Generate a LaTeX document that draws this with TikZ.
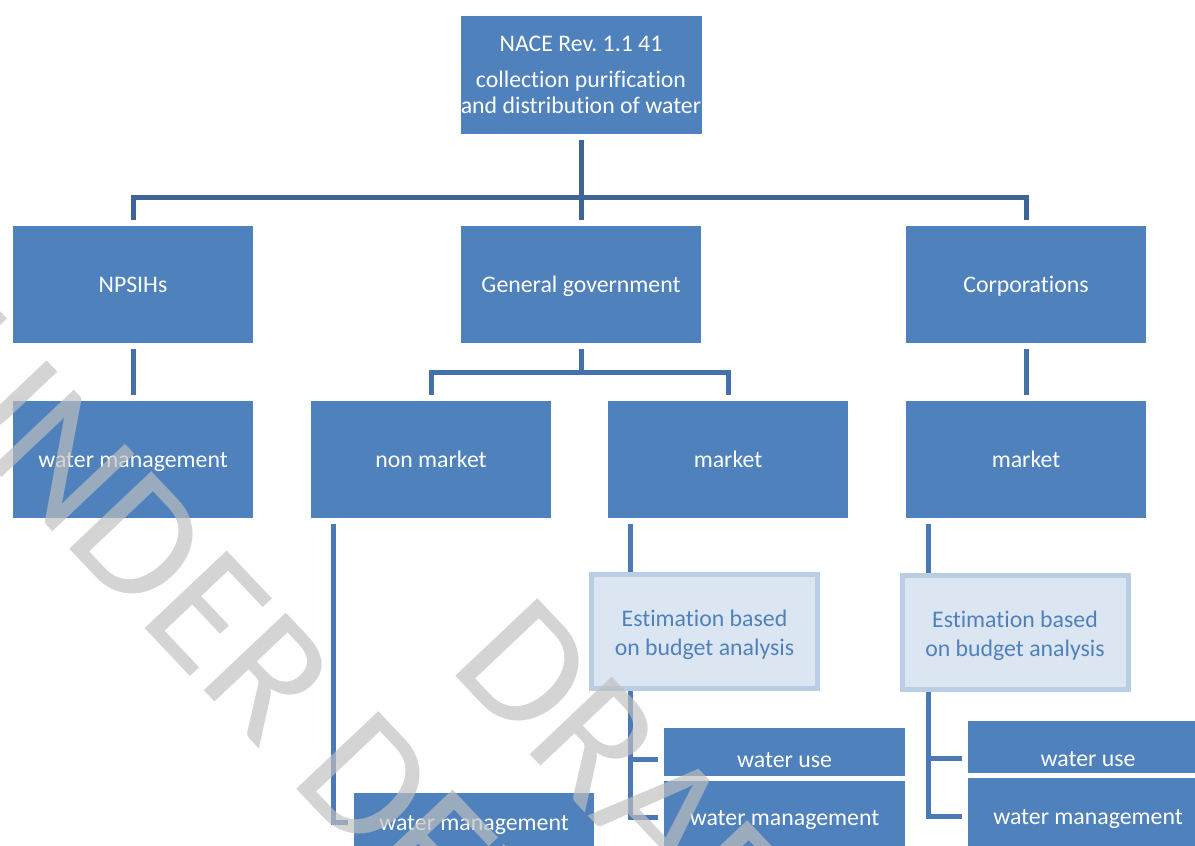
\documentclass[tikz,border=0pt]{standalone}
\usepackage{fontspec}
\newfontfamily\cali[RawFeature={-liga;-clig;-dlig}]{Carlito}
\usetikzlibrary{backgrounds}
\definecolor{boxblue}{HTML}{4F81BD}
\definecolor{lineA}{HTML}{3E6595}
\definecolor{lineB}{HTML}{4571AA}
\definecolor{lineC}{HTML}{4A79B6}
\definecolor{estfill}{HTML}{DCE6F2}
\definecolor{estline}{HTML}{B9CDE5}
\definecolor{wmgray}{HTML}{BFBFBF}
\frenchspacing
\begin{document}
\begin{tikzpicture}[x=1pt,y=-1pt]
\tikzstyle{unit}=[rectangle,fill=boxblue,draw=white,line width=5pt,inner sep=0pt,outer sep=0pt,
                  text=white,font=\cali\fontsize{23.8}{29}\selectfont,align=center,
                  minimum width=245pt,minimum height=122pt]
\tikzstyle{single}=[unit,text height=22pt,text depth=6pt]
\tikzstyle{estim}=[unit,fill=estfill,draw=estline,text=boxblue,text height=52.5pt,
                   minimum width=226pt,minimum height=114pt]
\tikzstyle{link}=[line width=5pt,shorten <=3.5pt,shorten >=3.5pt]
\tikzstyle{wmtext}=[text=wmgray,text opacity=0.68,font=\cali\fontsize{176}{194}\selectfont,
                    inner sep=0pt,anchor=base west,rotate=-46.6]
\useasboundingbox (0,0) rectangle (1195,846);
\clip (0,0) rectangle (1195,846);

\node[unit,minimum width=246pt,minimum height=123pt,font=\cali\fontsize{23.8}{26.7}\selectfont] (nace) at (581,75)
  {NACE Rev. 1.1 41\\[9.3pt]collection purification\\and distribution of water};
\node[single] (npsih) at (133,284.5) {NPSIHs};
\node[single] (gengov) at (581,284.5) {General government};
\node[single] (corp) at (1026,284.5) {Corporations};
\node[single] (npsihwm) at (133,459.5) {water management};
\node[single] (nonmkt) at (431,459.5) {non market};
\node[single] (ggmkt) at (728,459.5) {market};
\node[single] (corpmkt) at (1026,459.5) {market};
\node[estim] (ggest) at (704.5,631.5) {Estimation based\\on budget analysis};
\node[estim] (corpest) at (1015,632.5) {Estimation based\\on budget analysis};
\node[single,minimum width=246pt,minimum height=67pt] (gguse) at (784.5,759) {water use};
\node[single,minimum width=246pt,minimum height=77pt] (ggwm) at (784.5,817) {water management};
\node[single,minimum height=79pt] (corpuse) at (1088,758) {water use};
\node[single,minimum height=81pt] (corpwm) at (1088,816) {water management};
\node[single,minimum height=63pt] (nmwm) at (474,822) {water management};

\coordinate (topbus) at (581,197);
\coordinate (ggbus) at (581,372);
\coordinate (nmbus) at (333,0);
\coordinate (ggmbus) at (630,0);
\coordinate (cmbus) at (928,0);

\begin{scope}[on background layer]
\draw[link,lineA] (nace.south) -- (gengov.north);
\draw[link,lineA] (npsih.north) |- (topbus) -| (corp.north);
\draw[link,lineB,shorten >=-2.5pt] (gengov.south) -- (ggbus);
\draw[link,lineB] (nonmkt.north) |- (ggbus) -| (ggmkt.north);
\draw[link,lineB] (npsih) -- (npsihwm);
\draw[link,lineB] (corp) -- (corpmkt);
\draw[link,lineC] (nonmkt.south -| nmbus) |- (nmwm.west);
\draw[link,lineC,shorten >=0pt] (ggmkt.south -| ggmbus) -- (ggest.north -| ggmbus);
\draw[link,lineC,shorten <=0pt] (ggest.south -| ggmbus) |- (gguse.west);
\draw[link,lineC,shorten <=0pt] (ggest.south -| ggmbus) |- (ggwm.west);
\draw[link,lineC,shorten >=0pt] (corpmkt.south -| cmbus) -- (corpest.north -| cmbus);
\draw[link,lineC,shorten <=0pt] (corpest.south -| cmbus) |- (corpuse.west);
\draw[link,lineC,shorten <=0pt] (corpest.south -| cmbus) |- (corpwm.west);
\end{scope}

\node[wmtext] (wmline1) at (-94,376) {UNDER DEVELOPMENT};
\node[wmtext] (wmline2) at (447,667) {DRAFT};
\end{tikzpicture}
\end{document}
